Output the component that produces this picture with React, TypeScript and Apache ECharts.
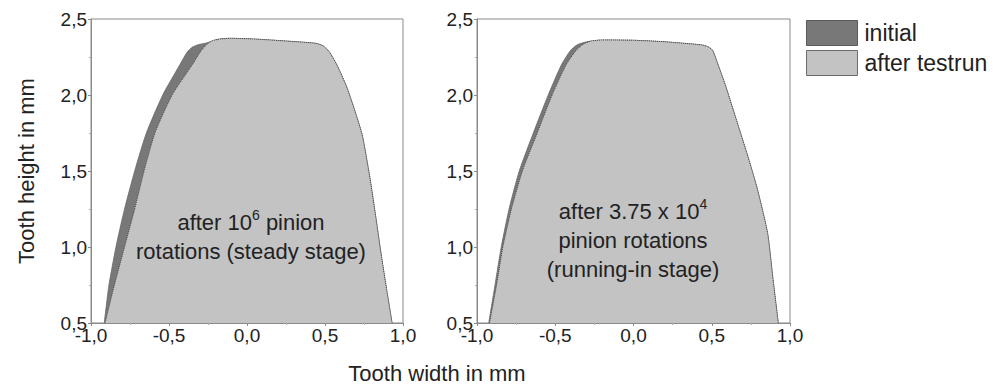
import React, { useEffect, useRef } from "react";
import * as echarts from "echarts";

// ---- data ----
const seriesNames = ["initial", "after testrun"];
const xTicks = [-1, -0.5, 0, 0.5, 1];
const yTicks = [0.5, 1, 1.5, 2, 2.5];
const xAxisTitle = "Tooth width in mm";
const yAxisTitle = "Tooth height in mm";
const noteSteady = ["after 10", "6", " pinion", "rotations (steady stage)"];
const noteRunIn = ["after 3.75 x 10", "4", "pinion rotations", "(running-in stage)"];

// left panel: steady stage (x, y) outline points
const steadyInitial: number[][] = [
  [-0.915, 0.5], [-0.885, 0.75], [-0.84, 1.0], [-0.785, 1.25], [-0.72, 1.5],
  [-0.645, 1.75], [-0.54, 2.0], [-0.43, 2.2], [-0.385, 2.28], [-0.35, 2.315],
  [-0.31, 2.332], [-0.26, 2.342], [-0.19, 2.366], [-0.11, 2.373], [0.05, 2.368],
  [0.25, 2.355], [0.44, 2.34], [0.49, 2.322], [0.53, 2.28], [0.58, 2.19],
  [0.64, 2.05], [0.69, 1.9], [0.74, 1.73], [0.79, 1.44], [0.825, 1.2],
  [0.86, 0.95], [0.895, 0.72], [0.93, 0.5],
];
const steadyAfter: number[][] = [
  [-0.91, 0.5], [-0.85, 0.75], [-0.785, 1.0], [-0.72, 1.25], [-0.66, 1.5],
  [-0.59, 1.75], [-0.48, 2.0], [-0.35, 2.2], [-0.295, 2.29], [-0.255, 2.335],
  [-0.22, 2.358], [-0.17, 2.368], [-0.11, 2.373], [0.05, 2.368], [0.25, 2.355],
  [0.44, 2.34], [0.49, 2.322], [0.53, 2.28], [0.58, 2.19], [0.64, 2.05],
  [0.69, 1.9], [0.74, 1.73], [0.79, 1.44], [0.825, 1.2], [0.86, 0.95],
  [0.895, 0.72], [0.93, 0.5],
];
// right panel: running-in stage
const runInInitial: number[][] = [
  [-0.925, 0.5], [-0.885, 0.75], [-0.845, 1.0], [-0.795, 1.25], [-0.73, 1.5],
  [-0.64, 1.75], [-0.545, 2.0], [-0.46, 2.2], [-0.405, 2.29], [-0.36, 2.33],
  [-0.3, 2.35], [-0.2, 2.362], [0.0, 2.36], [0.2, 2.35],
  [0.429, 2.33], [0.47, 2.32], [0.504, 2.296], [0.54, 2.2], [0.59, 2.055],
  [0.65, 1.86], [0.718, 1.638], [0.75, 1.53], [0.793, 1.375], [0.857, 1.09],
  [0.89, 0.8], [0.925, 0.5],
];
const runInAfter: number[][] = [
  [-0.92, 0.5], [-0.875, 0.75], [-0.835, 1.0], [-0.78, 1.25], [-0.71, 1.5],
  [-0.615, 1.75], [-0.52, 2.0], [-0.43, 2.2], [-0.37, 2.29], [-0.32, 2.335],
  [-0.27, 2.355], [-0.2, 2.362], [0.0, 2.36], [0.2, 2.35], [0.429, 2.33],
  [0.47, 2.32], [0.504, 2.296], [0.54, 2.2], [0.59, 2.055], [0.65, 1.86],
  [0.718, 1.638], [0.75, 1.53], [0.793, 1.375], [0.857, 1.09], [0.89, 0.8],
  [0.925, 0.5],
];

const FONT = "'Liberation Sans', Arial, sans-serif";
const DARK = "#787878";
const LIGHT = "#c3c3c3";

const fmt = (v: number) => v.toFixed(1).replace(".", ",");

function makeX(gridIndex: number) {
  return {
    type: "value",
    gridIndex,
    min: xTicks[0],
    max: xTicks[xTicks.length - 1],
    interval: xTicks[1] - xTicks[0],
    axisLine: { show: true, onZero: false, lineStyle: { color: "#8a8a8a", width: 1 } },
    axisTick: { show: true, inside: false, length: 3, lineStyle: { color: "#8a8a8a" } },
    minorTick: { show: true, splitNumber: 2, length: 2, lineStyle: { color: "#aaa" } },
    splitLine: { show: false },
    axisLabel: { formatter: fmt, fontSize: 19, color: "#222", fontFamily: FONT, margin: 3 },
  };
}
function makeY(gridIndex: number) {
  return {
    type: "value",
    gridIndex,
    min: yTicks[0],
    max: yTicks[yTicks.length - 1],
    interval: yTicks[1] - yTicks[0],
    axisLine: { show: true, onZero: false, lineStyle: { color: "#8a8a8a", width: 1 } },
    axisTick: { show: true, inside: false, length: 3, lineStyle: { color: "#8a8a8a" } },
    minorTick: { show: true, splitNumber: 2, length: 2, lineStyle: { color: "#aaa" } },
    splitLine: { show: false },
    axisLabel: { formatter: fmt, fontSize: 19, color: "#222", fontFamily: FONT, margin: 4 },
  };
}

function shape(name: string, data: number[][], idx: number, isAfter: boolean) {
  return {
    type: "line",
    name,
    xAxisIndex: idx,
    yAxisIndex: idx,
    data,
    showSymbol: false,
    symbol: "none",
    smooth: 0.2,
    z: isAfter ? 3 : 2,
    lineStyle: isAfter
      ? { color: "#444", width: 1, type: "dotted" }
      : { color: "#6a6a6a", width: 0.8 },
    itemStyle: { color: isAfter ? LIGHT : DARK },
    areaStyle: { color: isAfter ? LIGHT : DARK, opacity: 1, origin: "start" },
  };
}

export default function App() {
  const ref = useRef<HTMLDivElement>(null);
  useEffect(() => {
    document.body.style.margin = "0";
    const chart = echarts.init(ref.current!, null, { renderer: "svg" });
    const richSup = {
      sup: { fontSize: 14, verticalAlign: "top", lineHeight: 29, fontFamily: FONT, fill: "#222" },
    };
    chart.setOption({
      animation: false,
      backgroundColor: "#fff",
      textStyle: { fontFamily: FONT },
      grid: [
        { left: 91, top: 19, width: 312, height: 304, show: true, borderColor: "#8a8a8a", borderWidth: 1, backgroundColor: "transparent" },
        { left: 477, top: 19, width: 313, height: 304, show: true, borderColor: "#8a8a8a", borderWidth: 1, backgroundColor: "transparent" },
      ],
      xAxis: [makeX(0), makeX(1)],
      yAxis: [
        {
          ...makeY(0),
          name: yAxisTitle,
          nameLocation: "middle",
          nameGap: 54,
          nameTextStyle: { fontSize: 22, color: "#222", fontFamily: FONT },
        },
        makeY(1),
      ],
      legend: {
        orient: "vertical",
        left: 806,
        top: 20,
        padding: 0,
        itemWidth: 51,
        itemHeight: 25,
        itemGap: 4,
        icon: "rect",
        textStyle: { fontSize: 23, color: "#222", fontFamily: FONT, padding: [0, 0, 0, 2] },
        lineStyle: { opacity: 0 },
        data: [
          { name: seriesNames[0], itemStyle: { color: DARK, borderColor: "#5a5a5a", borderWidth: 1 } },
          { name: seriesNames[1], itemStyle: { color: LIGHT, borderColor: "#6a6a6a", borderWidth: 1 } },
        ],
      },
      graphic: [
        {
          type: "text",
          x: 437,
          y: 362,
          style: { text: xAxisTitle, font: `22px ${FONT}`, fill: "#222", align: "center" },
        },
        {
          type: "text",
          x: 251,
          y: 208,
          z: 10,
          style: {
            text: `${noteSteady[0]}{sup|${noteSteady[1]}}${noteSteady[2]}\n${noteSteady[3]}`,
            font: `22px ${FONT}`,
            fill: "#222",
            align: "center",
            lineHeight: 29,
            rich: richSup,
          },
        },
        {
          type: "text",
          x: 633,
          y: 197,
          z: 10,
          style: {
            text: `${noteRunIn[0]}{sup|${noteRunIn[1]}}\n${noteRunIn[2]}\n${noteRunIn[3]}`,
            font: `22px ${FONT}`,
            fill: "#222",
            align: "center",
            lineHeight: 29,
            rich: richSup,
          },
        },
      ],
      series: [
        shape(seriesNames[0], steadyInitial, 0, false),
        shape(seriesNames[1], steadyAfter, 0, true),
        shape(seriesNames[0], runInInitial, 1, false),
        shape(seriesNames[1], runInAfter, 1, true),
      ],
    });
    return () => chart.dispose();
  }, []);
  return <div ref={ref} style={{ width: 1003, height: 387 }} />;
}
